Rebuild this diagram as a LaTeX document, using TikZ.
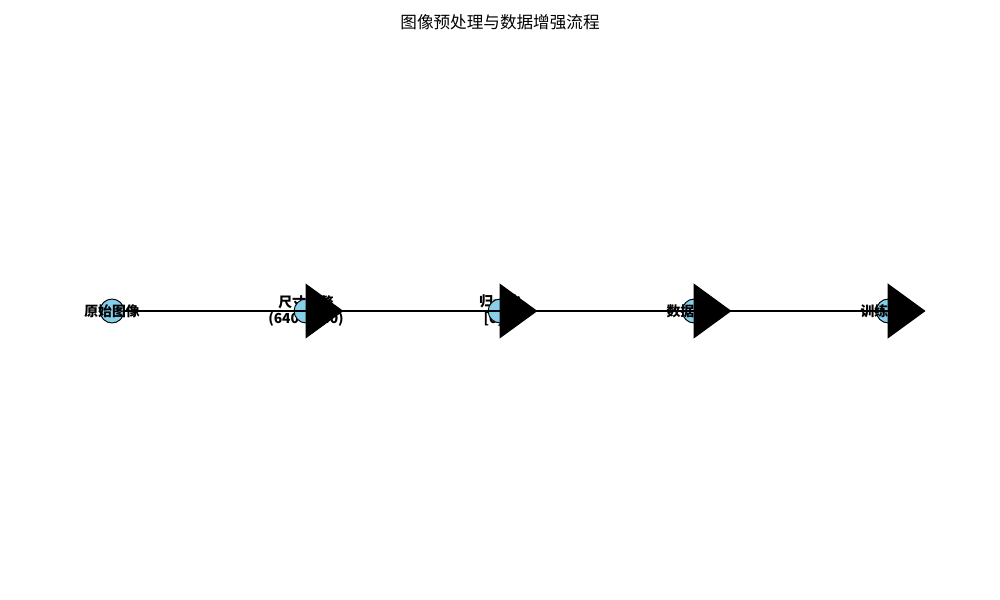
\documentclass[tikz,border=0pt]{standalone}
\usepackage{fontspec}
\setmainfont{Noto Sans CJK SC}
\usepackage{xcolor}
\usetikzlibrary{arrows.meta}
\definecolor{nodeblue}{RGB}{135,206,235}

\begin{document}
\begin{tikzpicture}[x=0.0254cm,y=-0.0254cm,>={Triangle[length=27.4pt,width=39.6pt]},node distance=4.93cm,
    stage/.style={circle,draw,fill=nodeblue,minimum size=17.3pt,inner sep=0pt,line width=0.7pt},
    stage label/.style={font=\fontsize{10}{12.2}\selectfont\bfseries,align=center,inner sep=0pt},
    flow/.style={->,line width=1.4pt,shorten >=-36pt}]

            \useasboundingbox (0,0) rectangle (1000,600);
            \node[font=\fontsize{12}{14}\selectfont] (title) at (500,22) {图像预处理与数据增强流程};

            \node[stage label] (l2) at (306,311) {尺寸调整\\(640×640)};
            \node[stage label] (l3) at (500,311) {归一化\\{[}0,1{]}};

            \node[stage] (1) at (112,311) {};
            \node[stage] (2) [right of = 1] {};
            \node[stage] (3) [right of = 2] {};
            \node[stage] (4) [right of = 3] {};
            \node[stage] (5) [right of = 4] {};

            \node[stage label] (l1) at (1) {原始图像};
            \node[stage label] (l4) at (4) {数据增强};
            \node[stage label] (l5) at (5) {训练样本};

            \draw[flow] (1) to (2);
            \draw[flow] (2) to (3);
            \draw[flow] (3) to (4);
            \draw[flow] (4) to (5);
        \end{tikzpicture}
\end{document}
